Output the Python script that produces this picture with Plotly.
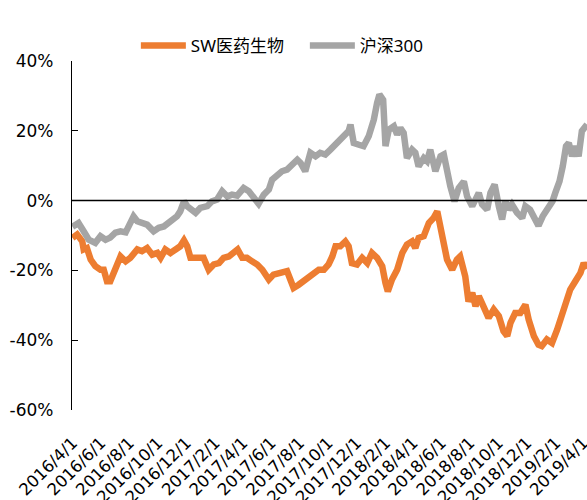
import plotly.graph_objects as go

# ---- data ----
series_names = ["SW医药生物", "沪深300"]

pharma_dates = [
    "2016-04-01", "2016-04-11", "2016-04-22", "2016-04-25", "2016-05-02", "2016-05-10", "2016-05-20",
    "2016-05-31", "2016-06-07", "2016-06-14", "2016-06-21", "2016-06-29", "2016-07-06", "2016-07-13",
    "2016-07-24", "2016-08-03", "2016-08-18", "2016-08-28", "2016-09-08", "2016-09-19", "2016-09-30",
    "2016-10-07", "2016-10-17", "2016-10-28", "2016-11-08", "2016-11-18", "2016-11-26", "2016-12-03",
    "2016-12-10", "2016-12-21", "2016-12-31", "2017-01-07", "2017-01-18", "2017-01-29", "2017-02-09",
    "2017-02-19", "2017-03-02", "2017-03-13", "2017-03-21", "2017-03-31", "2017-04-10", "2017-04-21",
    "2017-05-02", "2017-05-13", "2017-05-27", "2017-06-06", "2017-06-21", "2017-07-05", "2017-07-12",
    "2017-07-19", "2017-07-30", "2017-08-10", "2017-08-20", "2017-08-31", "2017-09-11", "2017-09-22",
    "2017-10-02", "2017-10-10", "2017-10-17", "2017-10-27", "2017-11-07", "2017-11-14", "2017-11-21",
    "2017-12-02", "2017-12-13", "2017-12-24", "2018-01-03", "2018-01-14", "2018-01-25", "2018-02-01",
    "2018-02-06", "2018-02-15", "2018-02-26", "2018-03-09", "2018-03-19", "2018-03-30", "2018-04-06",
    "2018-04-13", "2018-04-24", "2018-05-05", "2018-05-15", "2018-05-23", "2018-05-30", "2018-06-06",
    "2018-06-13", "2018-06-24", "2018-07-04", "2018-07-11", "2018-07-22", "2018-07-29", "2018-08-06",
    "2018-08-13", "2018-08-20", "2018-08-30", "2018-09-10", "2018-09-21", "2018-10-02", "2018-10-12",
    "2018-10-20", "2018-10-27", "2018-11-06", "2018-11-17", "2018-11-28", "2018-12-05", "2018-12-16",
    "2018-12-26", "2019-01-02", "2019-01-13", "2019-01-24", "2019-02-04", "2019-02-11", "2019-02-22",
    "2019-03-04", "2019-03-15", "2019-03-26", "2019-04-02", "2019-04-09",
]
pharma_values = [
    -10.7, -9.7, -11.7, -14.0, -13.6, -16.9, -18.8,
    -19.8, -19.8, -23.1, -23.1, -20.7, -17.9, -16.0,
    -17.4, -16.4, -14.0, -14.5, -13.6, -15.5, -15.0,
    -16.4, -14.0, -15.0, -14.0, -13.1, -11.4, -13.1,
    -16.4, -16.4, -16.0, -16.4, -19.8, -18.3, -17.9,
    -16.4, -16.0, -15.0, -14.0, -16.4, -16.4, -17.4,
    -18.3, -19.8, -22.6, -21.2, -20.7, -20.2, -22.6,
    -25.0, -24.1, -23.1, -21.7, -20.7, -19.8, -19.8,
    -18.3, -16.0, -13.1, -13.1, -11.7, -13.1, -17.9,
    -18.3, -16.4, -17.9, -15.0, -16.4, -18.8, -23.6,
    -26.0, -22.6, -19.8, -15.0, -12.6, -11.7, -13.6,
    -10.7, -10.2, -6.4, -5.0, -3.1, -8.3, -11.2,
    -16.9, -19.8, -16.9, -16.0, -21.7, -28.9, -26.4,
    -30.3, -27.4, -30.3, -33.6, -31.2, -33.1, -37.4,
    -38.8, -35.0, -32.2, -32.2, -29.8, -34.1, -38.8,
    -41.3, -41.7, -39.8, -40.8, -37.0, -34.1, -28.9,
    -25.5, -23.1, -20.7, -17.9, -19.5,
]

hs300_dates = [
    "2016-04-01", "2016-04-04", "2016-04-14", "2016-04-25", "2016-05-06", "2016-05-20", "2016-05-31",
    "2016-06-11", "2016-06-21", "2016-07-02", "2016-07-13", "2016-07-24", "2016-08-03", "2016-08-10",
    "2016-08-18", "2016-08-28", "2016-09-08", "2016-09-22", "2016-10-03", "2016-10-14", "2016-10-28",
    "2016-11-11", "2016-11-18", "2016-11-26", "2016-12-03", "2016-12-10", "2016-12-21", "2016-12-31",
    "2017-01-15", "2017-01-25", "2017-02-05", "2017-02-16", "2017-02-27", "2017-03-09", "2017-03-20",
    "2017-04-03", "2017-04-14", "2017-04-25", "2017-05-05", "2017-05-16", "2017-05-27", "2017-06-03",
    "2017-06-14", "2017-06-24", "2017-07-05", "2017-07-16", "2017-07-27", "2017-08-03", "2017-08-13",
    "2017-08-24", "2017-09-04", "2017-09-14", "2017-09-25", "2017-10-06", "2017-10-20", "2017-11-03",
    "2017-11-14", "2017-11-18", "2017-11-25", "2017-12-06", "2017-12-16", "2017-12-27", "2018-01-07",
    "2018-01-14", "2018-01-19", "2018-01-27", "2018-02-01", "2018-02-08", "2018-02-19", "2018-02-26",
    "2018-03-05", "2018-03-12", "2018-03-19", "2018-03-30", "2018-04-06", "2018-04-13", "2018-04-24",
    "2018-05-01", "2018-05-08", "2018-05-19", "2018-05-30", "2018-06-06", "2018-06-13", "2018-06-20",
    "2018-06-29", "2018-07-08", "2018-07-19", "2018-07-26", "2018-08-06", "2018-08-20", "2018-08-27",
    "2018-09-07", "2018-09-14", "2018-09-23", "2018-10-02", "2018-10-09", "2018-10-16", "2018-10-23",
    "2018-10-30", "2018-11-10", "2018-11-21", "2018-11-28", "2018-12-08", "2018-12-19", "2018-12-26",
    "2019-01-04", "2019-01-15", "2019-01-25", "2019-01-31", "2019-02-09", "2019-02-16", "2019-02-23",
    "2019-03-01", "2019-03-08", "2019-03-15", "2019-03-22", "2019-03-29", "2019-04-09",
]
hs300_values = [
    -7.5, -7.2, -6.4, -8.8, -11.2, -12.1, -10.2,
    -11.2, -10.6, -9.2, -8.8, -9.1, -6.9, -4.5,
    -5.9, -6.4, -6.9, -8.8, -7.8, -7.4, -5.9,
    -4.5, -3.1, -0.2, -1.6, -2.6, -3.5, -2.1,
    -1.6, -0.2, 0.3, 2.7, 1.2, 1.7, 1.4,
    3.6, 2.7, 0.8, -0.9, 1.7, 3.2, 6.0,
    7.4, 8.4, 8.9, 10.3, 11.7, 10.8, 8.4,
    13.7, 12.7, 13.7, 13.2, 14.6, 16.5, 18.0,
    19.9, 21.8, 16.5, 16.0, 15.6, 18.4, 23.2,
    28.0, 30.4, 28.9, 15.6, 20.3, 21.3, 18.9,
    20.8, 19.4, 12.2, 14.6, 13.7, 9.8, 12.2,
    11.3, 14.6, 8.4, 12.7, 13.2, 7.9, 4.1,
    -0.2, 3.6, 5.5, 1.2, -1.6, 2.2, -1.1,
    -2.6, 2.2, 4.6, -1.6, -5.4, -0.2, -2.6,
    -1.1, -3.5, -5.0, -1.6, -2.6, -5.4, -7.2,
    -4.5, -2.1, -0.2, 2.2, 5.5, 9.8, 15.6,
    16.5, 12.7, 15.6, 12.7, 19.9, 21.8,
]

y_tick_values = [-60, -40, -20, 0, 20, 40]
y_tick_labels = [f"{v}%" for v in y_tick_values]
x_range = ["2016-03-31", "2019-04-09"]
x_tick_start = "2016-04-01"

FONT = "Noto Sans, Noto Sans CJK SC, sans-serif"
TICK_FONT = "DejaVu Sans, Noto Sans, sans-serif"
ORANGE = "#ED7D31"
GRAY = "#A5A5A5"

fig = go.Figure()
fig.add_trace(go.Scatter(x=pharma_dates, y=pharma_values, mode="lines", name=series_names[0],
                         line=dict(color=ORANGE, width=6.5)))
fig.add_trace(go.Scatter(x=hs300_dates, y=hs300_values, mode="lines", name=series_names[1],
                         line=dict(color=GRAY, width=6.5)))

fig.add_shape(type="line", xref="paper", x0=0, x1=1, yref="y", y0=0, y1=0,
              line=dict(color="black", width=1.5), layer="above")

fig.update_layout(
    width=587, height=500,
    margin=dict(l=72, r=0, t=61, b=90),
    paper_bgcolor="white", plot_bgcolor="white",
    font=dict(family=FONT, size=17, color="black"),
    showlegend=True,
    legend=dict(orientation="h", x=0.124, xanchor="left", y=1.043, yanchor="middle",
                font=dict(family=FONT, size=17, color="black"),
                bgcolor="rgba(0,0,0,0)", itemwidth=45,
                entrywidth=109, entrywidthmode="pixels"),
)
fig.update_xaxes(type="date", range=x_range, tick0=x_tick_start, dtick="M2",
                 tickformat="%Y/%-m/%-d", tickangle=-45, showgrid=False, zeroline=False,
                 showline=False, ticks="", ticklabelstandoff=19, ticklabeloverflow="allow",
                 automargin=False,
                 tickfont=dict(family=TICK_FONT, size=16.5, color="black"))
fig.update_yaxes(range=[-60, 40], tickvals=y_tick_values, ticktext=y_tick_labels,
                 showgrid=False, zeroline=False, showline=True, linecolor="black", linewidth=1.3,
                 ticks="inside", ticklen=6, tickcolor="black", tickwidth=1.3, automargin=False,
                 ticklabelstandoff=14, tickfont=dict(family=TICK_FONT, size=17, color="black"))

fig.write_html("out.html", post_script="document.body.style.margin='0';",
               config={"displayModeBar": False})
